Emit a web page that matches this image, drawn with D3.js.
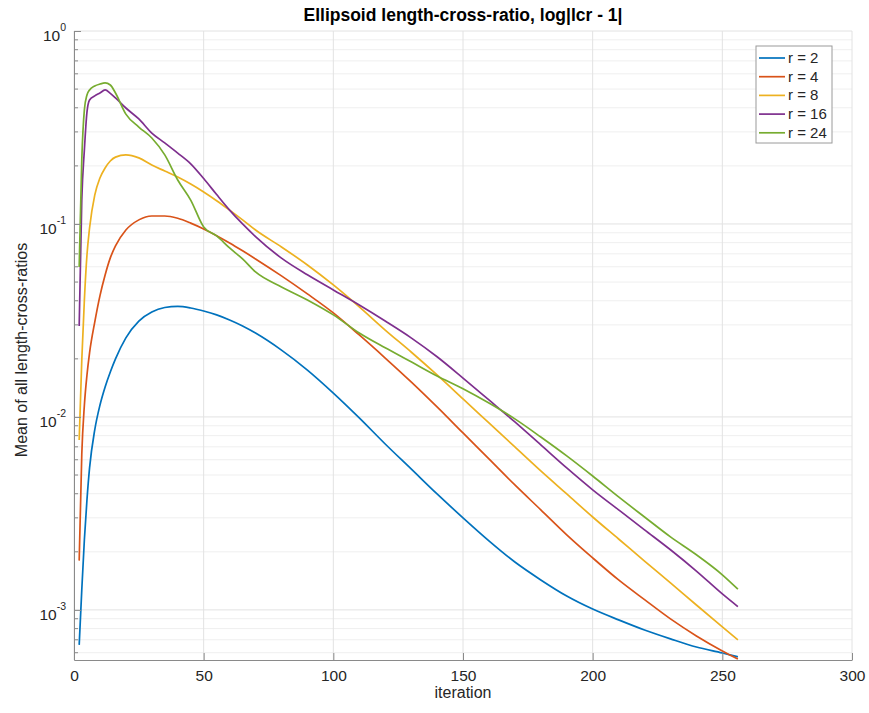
<!DOCTYPE html>
<html>
<head>
<meta charset="utf-8">
<script src="https://cdn.jsdelivr.net/npm/d3@7"></script>
<style>
    body { margin: 0; background: #fff; }
    text { font-family: "Liberation Sans", Arial, Helvetica, sans-serif; fill: #262626; }
</style>
</head>
<body>
<div id="chart"></div>
<script>

const iterations = [2, 3, 4, 5, 6, 8, 10, 12, 14, 16, 20, 25, 30, 35, 40, 45, 50, 55, 60, 65, 70,
    80, 90, 100, 110, 120, 130, 140, 150, 160, 170, 180, 190, 200, 210, 220, 230, 240, 250, 256];

const r2 = [6.59e-4, 1.27e-3, 2.31e-3, 3.72e-3, 5.44e-3, 8.57e-3, 0.0115, 0.0143, 0.0171, 0.0200, 0.0257,
    0.0314, 0.0350, 0.0369, 0.0374, 0.0367, 0.0354, 0.0338, 0.0318, 0.0296, 0.0272,
    0.0222, 0.0175, 0.0133, 9.89e-3, 7.24e-3, 5.38e-3, 3.99e-3, 3.00e-3, 2.28e-3, 1.77e-3,
    1.43e-3, 1.18e-3, 1.01e-3, 8.88e-4, 7.87e-4, 7.08e-4, 6.42e-4, 5.98e-4, 5.71e-4];

const r4 = [1.8e-3, 6.4e-3, 0.0115, 0.0165, 0.0215, 0.031, 0.0424, 0.0544, 0.0667, 0.0769, 0.093,
    0.105, 0.110, 0.110, 0.107, 0.101, 0.0942, 0.087, 0.0797, 0.0726, 0.0659,
    0.0538, 0.0434, 0.0346, 0.0266, 0.0202, 0.0152, 0.01127, 8.26e-3, 6.06e-3, 4.44e-3,
    3.30e-3, 2.45e-3, 1.86e-3, 1.43e-3, 1.13e-3, 8.98e-4, 7.33e-4, 6.13e-4, 5.57e-4];

const r8 = [7.6e-3, 0.0197, 0.0404, 0.069, 0.0953, 0.141, 0.173, 0.195, 0.212, 0.222, 0.228,
    0.220, 0.202, 0.188, 0.175, 0.161, 0.1465, 0.132, 0.118, 0.105, 0.093,
    0.076, 0.0613, 0.0483, 0.0372, 0.0282, 0.0217, 0.0165, 0.0124, 9.31e-3, 6.99e-3,
    5.25e-3, 3.99e-3, 3.03e-3, 2.33e-3, 1.79e-3, 1.38e-3, 1.06e-3, 8.17e-4, 7.0e-4];

const r16 = [0.0296, 0.133, 0.242, 0.380, 0.439, 0.461, 0.477, 0.495, 0.475, 0.450, 0.399,
    0.350, 0.296, 0.263, 0.233, 0.205, 0.172, 0.142, 0.118, 0.100, 0.086,
    0.0665, 0.0545, 0.0455, 0.0380, 0.0314, 0.0257, 0.0205, 0.0159, 0.01225, 9.42e-3,
    7.16e-3, 5.44e-3, 4.19e-3, 3.30e-3, 2.60e-3, 2.05e-3, 1.59e-3, 1.21e-3, 1.04e-3];

const r24 = [0.0599, 0.215, 0.390, 0.466, 0.495, 0.519, 0.531, 0.538, 0.525, 0.477, 0.371,
    0.318, 0.279, 0.228, 0.169, 0.133, 0.0965, 0.0867, 0.0751, 0.0659, 0.0564,
    0.0472, 0.0404, 0.0338, 0.0272, 0.0228, 0.0193, 0.0163, 0.0140, 0.0118, 9.77e-3,
    7.87e-3, 6.28e-3, 4.94e-3, 3.85e-3, 3.03e-3, 2.39e-3, 1.93e-3, 1.52e-3, 1.28e-3];

const seriesNames = ["r = 2", "r = 4", "r = 8", "r = 16", "r = 24"];
const xTicks = [0, 50, 100, 150, 200, 250, 300];
const yTicks = [1e-3, 1e-2, 1e-1, 1];
const yTickExponents = ["-3", "-2", "-1", "0"];

const allSeries = [r2, r4, r8, r16, r24];
// MATLAB default colour order
const colors = ["#0072BD", "#D95319", "#EDB120", "#7E2F8E", "#77AC30"];

const W = 869, H = 713;
const m = {top: 31, right: 17, bottom: 53, left: 74};
const pLeft = m.left, pRight = W - m.right, pTop = m.top, pBottom = H - m.bottom;

const svg = d3.select("#chart")
    .append("svg")
    .attr("width", W)
    .attr("height", H);

const x = d3.scaleLinear().domain([0, 300]).range([pLeft, pRight]);
const y = d3.scaleLog().domain([5.5e-4, 1]).range([pBottom, pTop]);

// minor values 2..9 x 10^k inside the y domain
let minor = [];
for (let k = -4; k <= -1; k++) {
    for (let d = 2; d <= 9; d++) {
        let v = d * Math.pow(10, k);
        if (v >= y.domain()[0] && v <= y.domain()[1]) minor.push(v);
    }
}

// grid
const grid = svg.append("g");
grid.selectAll(".minor").data(minor).enter().append("line")
    .attr("x1", pLeft).attr("x2", pRight)
    .attr("y1", d => y(d)).attr("y2", d => y(d))
    .attr("stroke", "#efefef").attr("stroke-width", 1);
grid.selectAll(".hmajor").data(yTicks).enter().append("line")
    .attr("x1", pLeft).attr("x2", pRight)
    .attr("y1", d => y(d)).attr("y2", d => y(d))
    .attr("stroke", "#e2e2e2").attr("stroke-width", 1);
grid.selectAll(".vmajor").data(xTicks).enter().append("line")
    .attr("x1", d => x(d)).attr("x2", d => x(d))
    .attr("y1", pTop).attr("y2", pBottom)
    .attr("stroke", "#e2e2e2").attr("stroke-width", 1);

// curves
const line = d3.line()
    .x((d, i) => x(iterations[i]))
    .y(d => y(d))
    .curve(d3.curveMonotoneX);

svg.append("g").selectAll("path").data(allSeries).enter().append("path")
    .attr("d", d => line(d))
    .attr("fill", "none")
    .attr("stroke", (d, i) => colors[i])
    .attr("stroke-width", 1.7)
    .attr("stroke-linejoin", "round");

// x axis, ticks pointing inward like matlab
const xAxis = d3.axisBottom(x)
    .tickValues(xTicks)
    .tickSizeInner(-7)
    .tickSizeOuter(0)
    .tickPadding(10);

const gx = svg.append("g")
    .attr("transform", "translate(0," + pBottom + ")")
    .call(xAxis);
gx.select(".domain").attr("stroke", "#8a8a8a");
gx.selectAll(".tick line").attr("stroke", "#8a8a8a");
gx.selectAll(".tick text")
    .style("font-family", "'Liberation Sans', Arial, sans-serif")
    .style("font-size", "15.5px")
    .attr("fill", "#262626");

// y axis with minor ticks
const yAxis = d3.axisLeft(y)
    .tickValues(yTicks)
    .tickSizeInner(-7)
    .tickSizeOuter(0)
    .tickFormat("");

const gy = svg.append("g")
    .attr("transform", "translate(" + pLeft + ",0)")
    .call(yAxis);
gy.select(".domain").attr("stroke", "#8a8a8a");
gy.selectAll(".tick line").attr("stroke", "#8a8a8a");

gy.selectAll(".minortick").data(minor).enter().append("line")
    .attr("x1", 0).attr("x2", 4)
    .attr("y1", d => y(d)).attr("y2", d => y(d))
    .attr("stroke", "#8a8a8a");

// y tick labels 10^k
const yLab = svg.append("g").selectAll("text").data(yTicks).enter().append("text")
    .attr("x", pLeft - 8)
    .attr("y", d => y(d) + 10)
    .attr("text-anchor", "end")
    .style("font-size", "15.5px");
yLab.append("tspan").text("10");
yLab.append("tspan")
    .attr("dy", -10)
    .style("font-size", "10.5px")
    .text((d, i) => yTickExponents[i]);

// title and axis labels
svg.append("text")
    .attr("x", (pLeft + pRight) / 2)
    .attr("y", 21)
    .attr("text-anchor", "middle")
    .style("font-size", "17.5px")
    .style("font-weight", "bold")
    .style("fill", "#000")
    .text("Ellipsoid length-cross-ratio, log|lcr - 1|");

svg.append("text")
    .attr("x", (pLeft + pRight) / 2)
    .attr("y", 698)
    .attr("text-anchor", "middle")
    .style("font-size", "16px")
    .text("iteration");

svg.append("text")
    .attr("transform", "translate(27,350) rotate(-90)")
    .attr("text-anchor", "middle")
    .style("font-size", "16px")
    .text("Mean of all length-cross-ratios");

// legend
const lg = svg.append("g").attr("transform", "translate(756,46)");
lg.append("rect")
    .attr("width", 76).attr("height", 97)
    .attr("fill", "#fff")
    .attr("stroke", "#9a9a9a")
    .attr("stroke-width", 1);

const item = lg.selectAll(".item").data(seriesNames).enter().append("g")
    .attr("transform", (d, i) => "translate(0," + (12 + i * 18.7) + ")");
item.append("line")
    .attr("x1", 3).attr("x2", 29)
    .attr("stroke", (d, i) => colors[i])
    .attr("stroke-width", 1.7);
item.append("text")
    .attr("x", 32)
    .attr("y", 5)
    .style("font-size", "15px")
    .text(d => d);

</script>
</body>
</html>
